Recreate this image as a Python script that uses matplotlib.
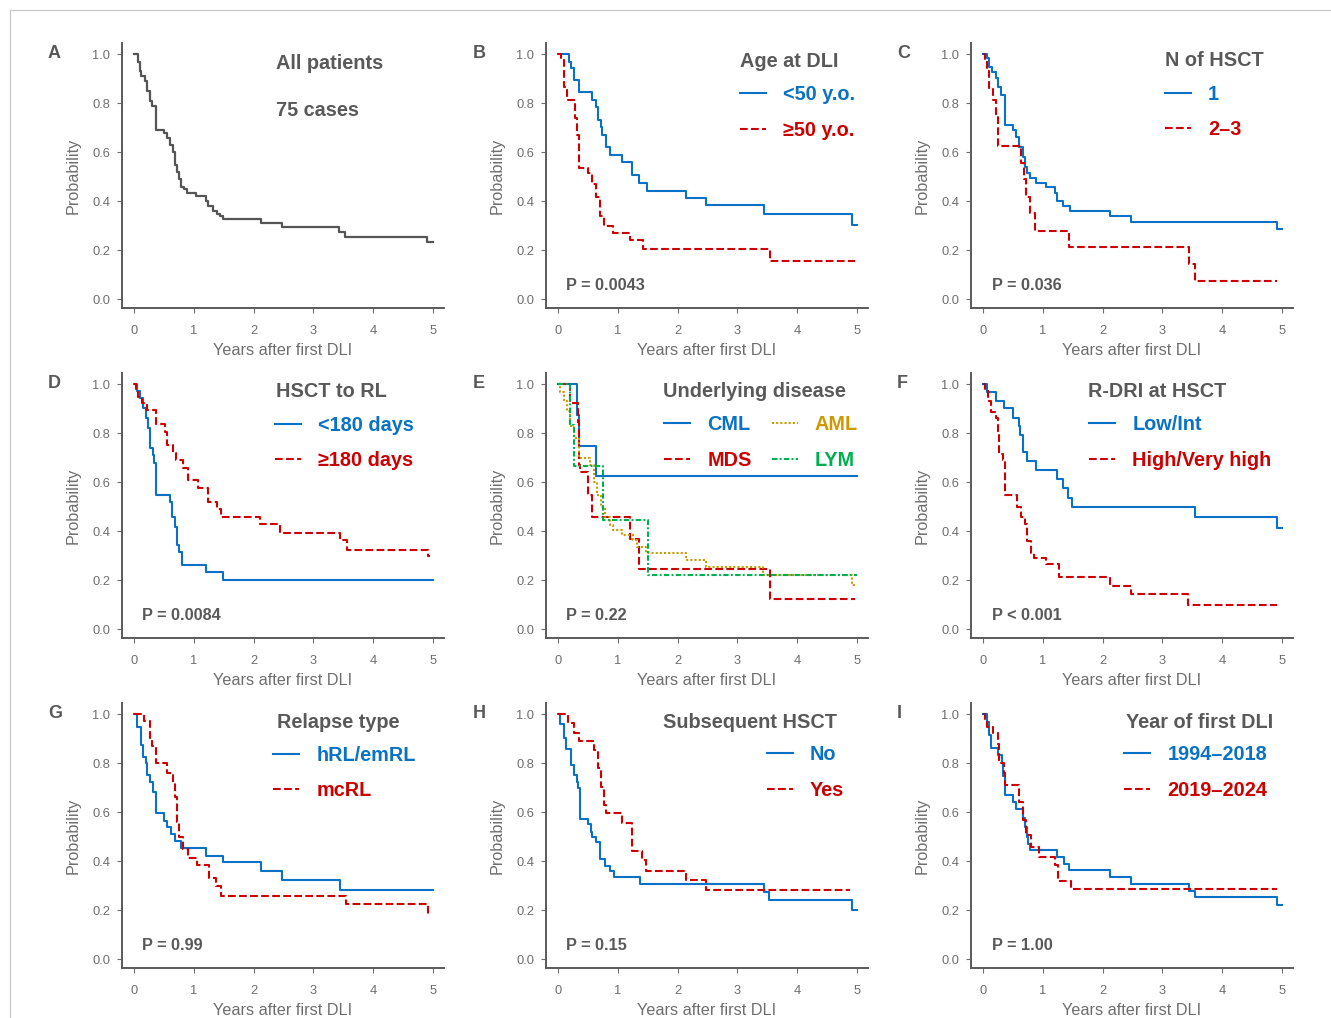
import matplotlib
matplotlib.use("Agg")
import matplotlib.pyplot as plt
from matplotlib.patches import Rectangle

plt.rcParams['font.family'] = ['Liberation Sans', 'DejaVu Sans']

# ---------------- data ----------------
x_ticks = [0, 1, 2, 3, 4, 5]
y_ticks = [0.0, 0.2, 0.4, 0.6, 0.8, 1.0]

# A: all patients
A_t = [0, 0.06, 0.09, 0.12, 0.18, 0.22, 0.26, 0.30, 0.36, 0.49, 0.54, 0.60, 0.65, 0.68, 0.71, 0.75,
       0.79, 0.84, 0.88, 1.04, 1.20, 1.24, 1.32, 1.38, 1.43, 1.48, 2.12, 2.48, 3.43, 3.53, 4.91, 5.0]
A_s = [1.0, 0.97, 0.93, 0.91, 0.89, 0.85, 0.81, 0.79, 0.69, 0.68, 0.66, 0.63, 0.60, 0.55, 0.52, 0.49,
       0.46, 0.45, 0.435, 0.42, 0.40, 0.38, 0.36, 0.35, 0.34, 0.327, 0.31, 0.294, 0.275, 0.253, 0.233, 0.233]

# B: age at DLI
B1_t = [0, 0.18, 0.22, 0.26, 0.35, 0.57, 0.63, 0.67, 0.71, 0.74, 0.80, 0.87, 1.06, 1.24, 1.36, 1.48, 2.14, 2.47, 3.45, 4.93, 5.0]
B1_s = [1.0, 0.97, 0.943, 0.895, 0.844, 0.814, 0.784, 0.732, 0.705, 0.671, 0.620, 0.589, 0.562, 0.507, 0.473, 0.444, 0.415, 0.385, 0.348, 0.303, 0.303]
B2_t = [0, 0.04, 0.10, 0.14, 0.28, 0.31, 0.35, 0.50, 0.56, 0.63, 0.70, 0.76, 0.92, 1.20, 1.42, 3.55, 4.97]
B2_s = [1.0, 0.977, 0.867, 0.814, 0.74, 0.67, 0.535, 0.514, 0.47, 0.419, 0.34, 0.30, 0.272, 0.24, 0.205, 0.158, 0.158]

# C: number of HSCT
C1_t = [0, 0.056, 0.10, 0.14, 0.21, 0.25, 0.30, 0.36, 0.50, 0.55, 0.60, 0.67, 0.70, 0.74, 0.79, 0.89, 1.05, 1.21, 1.24, 1.34, 1.46, 2.13, 2.47, 4.92, 5.0]
C1_s = [1.0, 0.984, 0.95, 0.929, 0.902, 0.868, 0.834, 0.712, 0.691, 0.664, 0.623, 0.582, 0.54, 0.514, 0.494, 0.476, 0.457, 0.433, 0.401, 0.382, 0.362, 0.34, 0.317, 0.286, 0.286]
C2_t = [0, 0.03, 0.06, 0.10, 0.17, 0.21, 0.25, 0.64, 0.68, 0.71, 0.79, 0.87, 1.43, 3.44, 3.55, 4.93]
C2_s = [1.0, 0.977, 0.93, 0.86, 0.814, 0.75, 0.626, 0.558, 0.49, 0.419, 0.351, 0.28, 0.212, 0.144, 0.075, 0.075]

# D: HSCT to relapse
D1_t = [0, 0.04, 0.095, 0.14, 0.20, 0.235, 0.27, 0.31, 0.335, 0.36, 0.59, 0.64, 0.68, 0.72, 0.755, 0.80, 1.21, 1.48, 5.0]
D1_s = [1.0, 0.973, 0.943, 0.902, 0.861, 0.82, 0.739, 0.71, 0.68, 0.548, 0.521, 0.46, 0.419, 0.344, 0.317, 0.263, 0.233, 0.201, 0.201]
D2_t = [0, 0.03, 0.06, 0.13, 0.22, 0.36, 0.51, 0.55, 0.65, 0.70, 0.82, 0.90, 1.06, 1.24, 1.38, 1.45, 2.10, 2.45, 3.45, 3.56, 4.93, 4.96]
D2_s = [1.0, 0.98, 0.95, 0.922, 0.895, 0.838, 0.807, 0.752, 0.72, 0.69, 0.657, 0.609, 0.578, 0.521, 0.49, 0.46, 0.429, 0.395, 0.365, 0.324, 0.30, 0.30]

# E: underlying disease
E_cml_t = [0, 0.32, 0.35, 0.63, 5.0]
E_cml_s = [1.0, 0.875, 0.75, 0.625, 0.625]
E_mds_t = [0, 0.20, 0.33, 0.34, 0.35, 0.36, 0.50, 0.56, 1.21, 1.36, 3.55, 4.97]
E_mds_s = [1.0, 0.923, 0.846, 0.769, 0.67, 0.643, 0.548, 0.46, 0.369, 0.246, 0.122, 0.122]
E_aml_t = [0, 0.03, 0.10, 0.15, 0.20, 0.27, 0.35, 0.53, 0.60, 0.65, 0.72, 0.78, 0.87, 0.92, 1.07, 1.25, 1.32, 1.47, 2.14, 2.47, 3.43, 4.93, 4.97]
E_aml_s = [1.0, 0.97, 0.93, 0.89, 0.83, 0.78, 0.70, 0.67, 0.60, 0.55, 0.50, 0.46, 0.426, 0.405, 0.385, 0.364, 0.337, 0.31, 0.283, 0.255, 0.221, 0.18, 0.18]
E_lym_t = [0, 0.20, 0.26, 0.75, 1.50, 5.0]
E_lym_s = [1.0, 0.834, 0.668, 0.446, 0.222, 0.222]

# F: R-DRI at HSCT
F1_t = [0, 0.07, 0.22, 0.35, 0.49, 0.59, 0.62, 0.67, 0.74, 0.89, 1.23, 1.34, 1.42, 1.48, 3.54, 4.92, 5.0]
F1_s = [1.0, 0.97, 0.932, 0.902, 0.864, 0.83, 0.793, 0.722, 0.686, 0.65, 0.614, 0.576, 0.537, 0.498, 0.457, 0.412, 0.412]
F2_t = [0, 0.03, 0.08, 0.13, 0.21, 0.24, 0.27, 0.33, 0.36, 0.57, 0.64, 0.70, 0.73, 0.80, 0.85, 1.05, 1.27, 2.13, 2.47, 3.43, 4.93]
F2_s = [1.0, 0.975, 0.93, 0.888, 0.861, 0.80, 0.714, 0.69, 0.548, 0.50, 0.46, 0.43, 0.36, 0.31, 0.29, 0.265, 0.215, 0.178, 0.144, 0.10, 0.10]

# G: relapse type
G1_t = [0, 0.04, 0.11, 0.15, 0.20, 0.22, 0.27, 0.32, 0.36, 0.50, 0.55, 0.61, 0.68, 0.79, 1.21, 1.48, 2.13, 2.47, 3.45, 5.0]
G1_s = [1.0, 0.95, 0.875, 0.827, 0.80, 0.752, 0.725, 0.684, 0.596, 0.565, 0.538, 0.51, 0.483, 0.453, 0.423, 0.396, 0.361, 0.324, 0.283, 0.283]
G2_t = [0, 0.17, 0.26, 0.30, 0.36, 0.55, 0.65, 0.69, 0.72, 0.75, 0.81, 0.90, 1.05, 1.25, 1.37, 1.45, 3.55, 4.93, 4.94]
G2_s = [1.0, 0.973, 0.90, 0.87, 0.80, 0.759, 0.72, 0.664, 0.56, 0.50, 0.45, 0.415, 0.385, 0.33, 0.30, 0.26, 0.224, 0.18, 0.18]

# H: subsequent HSCT
H1_t = [0, 0.03, 0.10, 0.13, 0.22, 0.27, 0.31, 0.33, 0.36, 0.49, 0.55, 0.57, 0.64, 0.70, 0.79, 0.87, 0.93, 1.37, 3.45, 3.53, 4.93, 5.0]
H1_s = [1.0, 0.96, 0.902, 0.857, 0.793, 0.752, 0.722, 0.70, 0.573, 0.551, 0.521, 0.50, 0.48, 0.41, 0.382, 0.36, 0.336, 0.307, 0.276, 0.242, 0.201, 0.201]
H2_t = [0, 0.17, 0.27, 0.34, 0.60, 0.66, 0.72, 0.76, 0.80, 1.06, 1.24, 1.41, 1.47, 2.14, 2.47, 4.88]
H2_s = [1.0, 0.963, 0.925, 0.891, 0.855, 0.78, 0.705, 0.63, 0.596, 0.555, 0.443, 0.405, 0.362, 0.322, 0.283, 0.283]

# I: year of first DLI
I1_t = [0, 0.06, 0.10, 0.13, 0.24, 0.31, 0.33, 0.36, 0.50, 0.55, 0.67, 0.70, 0.73, 0.75, 0.78, 1.24, 1.36, 1.43, 2.13, 2.47, 3.45, 3.55, 4.93, 5.0]
I1_s = [1.0, 0.97, 0.916, 0.861, 0.834, 0.80, 0.75, 0.67, 0.64, 0.612, 0.578, 0.54, 0.50, 0.47, 0.446, 0.418, 0.39, 0.365, 0.335, 0.306, 0.279, 0.253, 0.222, 0.222]
I2_t = [0, 0.03, 0.07, 0.17, 0.24, 0.27, 0.34, 0.36, 0.60, 0.67, 0.72, 0.80, 0.93, 1.21, 1.26, 1.47, 4.93]
I2_s = [1.0, 0.98, 0.95, 0.922, 0.88, 0.80, 0.76, 0.712, 0.64, 0.57, 0.507, 0.46, 0.416, 0.385, 0.32, 0.285, 0.285]

# text
panel_letters = ['A', 'B', 'C', 'D', 'E', 'F', 'G', 'H', 'I']
legend_titles = [None, 'Age at DLI', 'N of HSCT', 'HSCT to RL', 'Underlying disease',
                 'R-DRI at HSCT', 'Relapse type', 'Subsequent HSCT', 'Year of first DLI']
p_values = [None, 'P = 0.0043', 'P = 0.036', 'P = 0.0084', 'P = 0.22', 'P < 0.001',
            'P = 0.99', 'P = 0.15', 'P = 1.00']

# ---------------- styling ----------------
W, H = 1331, 1018
BLUE = '#0A72C6'
RED = '#CC0000'
GOLD = '#CC9900'
GREEN = '#00B050'
GREYLINE = '#555555'
TXT = '#595959'
TICKC = '#6E6E6E'
FS_LEG = 14.3
FS_P = 11.7

SOLID = dict(linestyle='-')
DASH = dict(linestyle='--')
DOT = dict(linestyle=(0, (1.0, 1.0)))
DASHDOT = dict(linestyle=(0, (2.6, 1.1, 0.9, 1.1)))

fig = plt.figure(figsize=(W / 100, H / 100), dpi=100)

col_left = [122, 546, 971]
row_top = [43, 373, 703]
AX_W, AX_H = 322, 265

# legend geometry in pixels per panel: (handle x, row1 y, row2 y, title x, title y)
leg_geo = {
    1: (740, 92.5, 128.3, 740, 60),
    2: (1165, 92.3, 127.7, 1165.3, 59.3),
    3: (275, 423.3, 458.3, 276, 390),
    4: (664.3, 423, 458, 663.3, 390),
    5: (1089.3, 423, 458, 1088.3, 390),
    6: (273.3, 753.3, 789, 276.7, 721),
    7: (766.7, 753, 788, 662.7, 721),
    8: (1124.3, 753, 788, 1126, 721),
}


def fy(py):
    return 1 - py / H


axes = []
for i in range(9):
    r, c = divmod(i, 3)
    L, T = col_left[c], row_top[r]
    ax = fig.add_axes([L / W, 1 - (T + AX_H) / H, AX_W / W, AX_H / H])
    ax.set_xlim(-0.206, 5.19)
    ax.set_ylim(-0.0355, 1.046)
    for s in ['top', 'right']:
        ax.spines[s].set_visible(False)
    for s in ['left', 'bottom']:
        ax.spines[s].set_color('#5a5a5a')
        ax.spines[s].set_linewidth(1.4)
    ax.set_xticks(x_ticks)
    ax.set_yticks(y_ticks)
    ax.set_xticklabels([str(v) for v in x_ticks])
    ax.set_yticklabels(['%.1f' % v for v in y_ticks])
    ax.tick_params(axis='both', colors=TICKC, labelcolor=TICKC, labelsize=9.3,
                   length=3.4, width=0.8)
    ax.tick_params(axis='x', pad=8.6)
    ax.tick_params(axis='y', pad=5.0)
    ax.set_xlabel('Years after first DLI', fontsize=11.7, color=TICKC)
    ax.set_ylabel('Probability', fontsize=11.7, color=TICKC)
    ax.xaxis.set_label_coords(0.5, -0.133)
    ax.yaxis.set_label_coords(-0.13, 0.5)
    # panel letter
    lx = [48, 473, 897][c]
    ly = [51, 381, 711][r]
    fig.text(lx / W, fy(ly + 6.5), panel_letters[i], fontsize=13, fontweight='bold',
             color=TXT, ha='left', va='baseline')
    # p value
    if p_values[i]:
        fig.text((L + 20.5) / W, fy([284, 614, 944][r] + 5.8), p_values[i], fontsize=FS_P,
                 fontweight='bold', color=TXT, ha='left', va='baseline')
    axes.append(ax)


def km(ax, t, s, color, style, lw=1.5):
    ln, = ax.plot(t, s, drawstyle='steps-post', color=color, lw=lw, **style)
    return ln


# Panel A
axA = axes[0]
km(axA, A_t, A_s, GREYLINE, SOLID, lw=1.6)
fig.text(276 / W, fy(61.7 + 7.1), 'All patients', fontsize=FS_LEG, fontweight='bold',
         color=TXT, ha='left', va='baseline')
fig.text(276 / W, fy(109.3 + 7.1), '75 cases', fontsize=FS_LEG, fontweight='bold',
         color=TXT, ha='left', va='baseline')

pairs = {
    1: [(B1_t, B1_s, BLUE, SOLID, '<50 y.o.'), (B2_t, B2_s, RED, DASH, '≥50 y.o.')],
    2: [(C1_t, C1_s, BLUE, SOLID, '1'), (C2_t, C2_s, RED, DASH, '2–3')],
    3: [(D1_t, D1_s, BLUE, SOLID, '<180 days'), (D2_t, D2_s, RED, DASH, '≥180 days')],
    4: [(E_cml_t, E_cml_s, BLUE, SOLID, 'CML'), (E_mds_t, E_mds_s, RED, DASH, 'MDS'),
        (E_aml_t, E_aml_s, GOLD, DOT, 'AML'), (E_lym_t, E_lym_s, GREEN, DASHDOT, 'LYM')],
    5: [(F1_t, F1_s, BLUE, SOLID, 'Low/Int'), (F2_t, F2_s, RED, DASH, 'High/Very high')],
    6: [(G1_t, G1_s, BLUE, SOLID, 'hRL/emRL'), (G2_t, G2_s, RED, DASH, 'mcRL')],
    7: [(H1_t, H1_s, BLUE, SOLID, 'No'), (H2_t, H2_s, RED, DASH, 'Yes')],
    8: [(I1_t, I1_s, BLUE, SOLID, '1994–2018'), (I2_t, I2_s, RED, DASH, '2019–2024')],
}

fs_px = FS_LEG * 100 / 72
for i, series in pairs.items():
    ax = axes[i]
    handles, labels = [], []
    for (t, s, colr, sty, lab) in series:
        handles.append(km(ax, t, s, colr, sty))
        labels.append(lab)
    hx, r1, r2, tx, ty = leg_geo[i]
    ncol = 2 if len(series) == 4 else 1
    ax.legend(handles, labels, loc='center left',
              bbox_to_anchor=(hx / W, fy((r1 + r2) / 2 + 2)), bbox_transform=fig.transFigure,
              frameon=False, borderpad=0, borderaxespad=0, ncol=ncol,
              handlelength=26 / fs_px, handletextpad=17 / fs_px, labelspacing=0.82,
              columnspacing=20 / fs_px,
              prop=dict(weight='bold', size=FS_LEG), labelcolor='linecolor')
    fig.text(tx / W, fy(ty + 0.358 * fs_px), legend_titles[i], fontsize=FS_LEG,
             fontweight='bold', color=TXT, ha='left', va='baseline')

# light frame at top/left edge
fig.add_artist(Rectangle((9.5 / W, -0.02), 1.1, 1 - 9.5 / H + 0.02, transform=fig.transFigure,
                         fill=False, edgecolor='#c8c8c8', lw=0.9))

fig.savefig('out.png', dpi=100)
